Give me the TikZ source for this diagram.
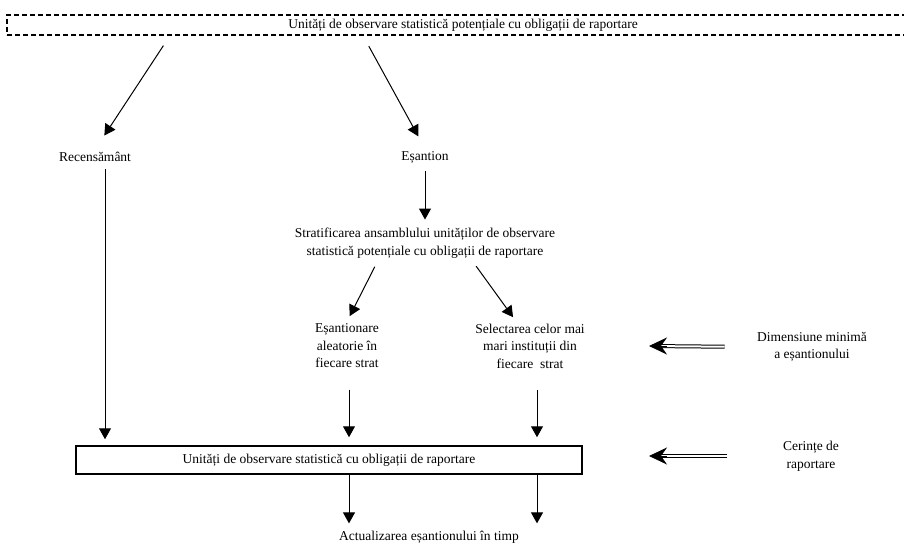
\documentclass[tikz,border=0pt]{standalone}
\usepackage{fontspec}
\setmainfont{Liberation Serif}
\usetikzlibrary{arrows.meta,positioning}

\begin{document}
\begin{tikzpicture}[x=1pt, y=-1pt, ->, >={Triangle[length=11pt,width=12pt]}, line width=1pt,
  every node/.style={align=center, font=\fontsize{13.5}{17.5}\selectfont, inner sep=2pt},
  dbl/.style={-, double, double distance=2pt, line width=1pt, shorten >=12pt},
  dbltip/.style={-{Stealth[length=18pt,width=17pt,inset=6pt]}, line width=0.8pt}]

\useasboundingbox (0,0) rectangle (904,546);

% Potential units
\node (pot) [draw, rectangle, dash pattern=on 5pt off 3pt, line width=1.2pt, minimum width=912pt, minimum height=20pt] at (463,25) {Unități de observare statistică potențiale cu obligații de raportare};

% Census and sample
\node (rec) at (95,157) {Recensământ};
\node (esa) at (425,157) {Eșantion};
\node (strat) at (425,243) {Stratificarea ansamblului unităților de observare\\statistică potențiale cu obligații de raportare};

% Selection methods
\node (ale) at (347,346) {Eșantionare\\aleatorie în\\fiecare strat};
\node (sel) at (530,346) {Selectarea celor mai\\mari instituții din\\fiecare\ \ strat};

% Requirements
\node (dim) at (812,347) {Dimensiune minimă\\a eșantionului};
\node (cer) at (811,456) {Cerințe de\\raportare};
\coordinate (dimtip) at (649,346);
\coordinate (certip) at (649,456);

% Units with obligations
\node (obs) [draw, rectangle, line width=1.5pt, minimum width=506pt, minimum height=28pt] at (329,460) {Unități de observare statistică cu obligații de raportare};
\node (act) at (429,537) {Actualizarea eșantionului în timp};

% Arrows from potential units
\draw[shorten <=12pt, shorten >=17pt] ([xshift=-293pt]pot.south) -- (rec.north);
\draw[shorten <=12pt, shorten >=14pt] ([xshift=-100pt]pot.south) -- (esa.north);

% Census path
\draw[shorten <=5pt, shorten >=6pt] ([xshift=10pt]rec.south) -- ([xshift=10pt]rec.south |- obs.north);

% Sample path
\draw[shorten <=6pt, shorten >=6pt] (esa) -- (strat);
\draw[shorten <=7pt, shorten >=6pt] ([xshift=-47pt]strat.south) -- (ale.north);
\draw[shorten <=7pt, shorten >=5pt] ([xshift=47pt]strat.south) -- ([xshift=-14pt]sel.north);
\draw[shorten <=19pt, shorten >=8pt] ([xshift=2pt]ale.south) -- ([xshift=2pt]ale.south |- obs.north);
\draw[shorten <=19pt, shorten >=8pt] ([xshift=7pt]sel.south) -- ([xshift=7pt]sel.south |- obs.north);

% Sample update
\draw[shorten >=5pt] ([xshift=20pt]obs.south) -- ([xshift=20pt]obs.south |- act.north);
\draw[shorten >=5pt] ([xshift=208pt]obs.south) -- ([xshift=208pt]obs.south |- act.north);

% Double arrows
\draw[dbl, shorten <=30pt] (dim.west) -- (dimtip);
\draw[dbltip] ([xshift=18pt]dimtip) -- (dimtip);
\draw[dbl, shorten <=54pt] (cer.west) -- (certip);
\draw[dbltip] ([xshift=18pt]certip) -- (certip);

\end{tikzpicture}
\end{document}
